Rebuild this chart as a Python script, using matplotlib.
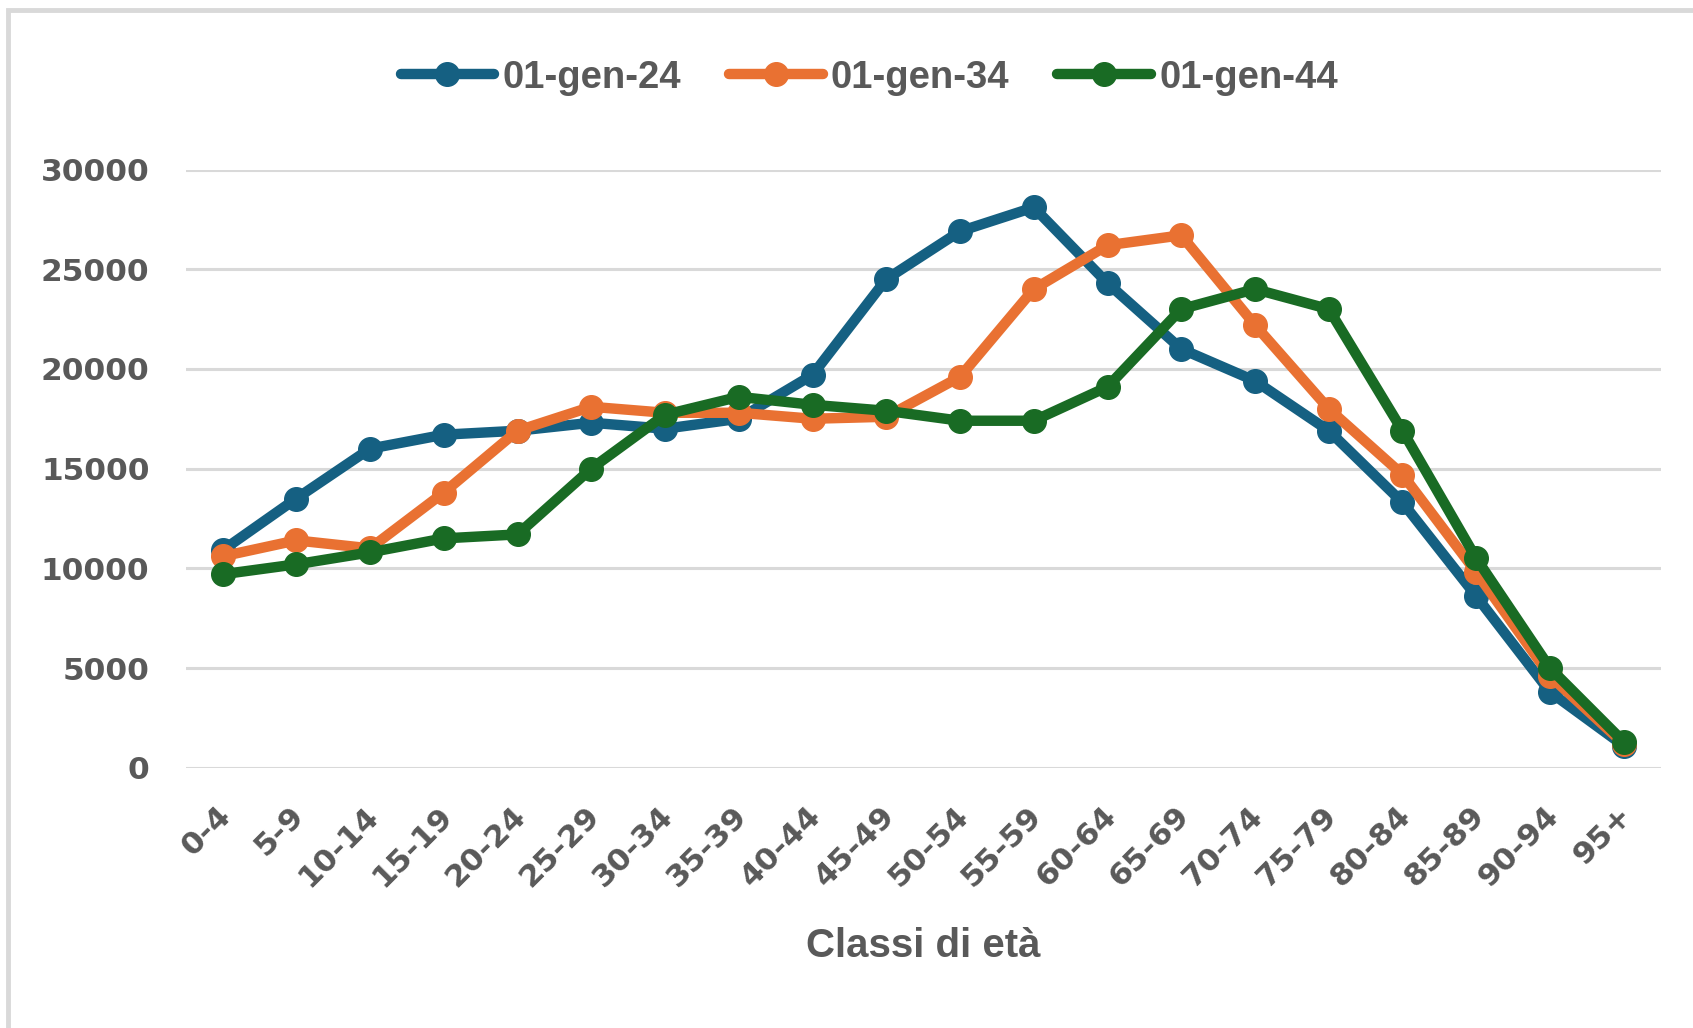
import matplotlib
matplotlib.use("Agg")
import matplotlib.pyplot as plt
from matplotlib.patches import Rectangle
from matplotlib.transforms import ScaledTranslation

categories = ["0-4", "5-9", "10-14", "15-19", "20-24", "25-29", "30-34", "35-39",
              "40-44", "45-49", "50-54", "55-59", "60-64", "65-69", "70-74", "75-79",
              "80-84", "85-89", "90-94", "95+"]
s2024 = [10900, 13500, 16000, 16700, 16900, 17300, 17000, 17500, 19700, 24500,
         26900, 28100, 24300, 21000, 19400, 16900, 13300, 8600, 3800, 1100]
s2034 = [10600, 11400, 11000, 13800, 16900, 18100, 17800, 17800, 17500, 17600,
         19600, 24000, 26200, 26700, 22200, 18000, 14700, 9800, 4600, 1200]
s2044 = [9700, 10200, 10800, 11500, 11700, 15000, 17700, 18600, 18200, 17900,
         17400, 17400, 19100, 23000, 24000, 23000, 16900, 10500, 5000, 1300]
series_labels = ["01-gen-24", "01-gen-34", "01-gen-44"]
colors = ["#156082", "#E97132", "#196B24"]
yticks = [0, 5000, 10000, 15000, 20000, 25000, 30000]

W, H = 1693, 1028
fig = plt.figure(figsize=(W / 100, H / 100), dpi=100)
fig.patch.set_facecolor("white")
fig.patches.append(Rectangle((8 / W, -0.1), 1.2, 1.1 - 10 / H,
                             transform=fig.transFigure, fill=False,
                             edgecolor="#d9d9d9", linewidth=3.5, zorder=0))

ax = fig.add_axes([185.7 / W, 1 - 767.7 / H, (1660.6 - 185.7) / W, (767.7 - 169.5) / H])
x = list(range(len(categories)))
for ys, lab, c in zip([s2024, s2034, s2044], series_labels, colors):
    ax.plot(x, ys, color=c, lw=7.5, marker="o", markersize=17,
            solid_capstyle="round", solid_joinstyle="round", label=lab, clip_on=False)

ax.set_xlim(-0.5, len(categories) - 0.5)
ax.set_ylim(0, 30000)
ax.set_yticks(yticks)
ax.set_yticklabels([str(v) for v in yticks])
ax.yaxis.grid(True, color="#d9d9d9", lw=2.2)
ax.set_axisbelow(True)
for sp in ax.spines.values():
    sp.set_visible(False)
ax.tick_params(axis="both", length=0, colors="#595959")
ax.tick_params(axis="y", pad=26)
ax.tick_params(axis="x", pad=24)
ax.set_xticks(x)
ax.set_xticklabels(categories, rotation=45, ha="right", rotation_mode="default")
offset = ScaledTranslation(14 / 100, 0, fig.dpi_scale_trans)
for t in ax.get_xticklabels():
    t.set_transform(t.get_transform() + offset)
for t in ax.get_yticklabels() + ax.get_xticklabels():
    t.set_fontfamily("DejaVu Sans")
    t.set_fontweight("bold")
    t.set_fontsize(22.5)
    t.set_color("#595959")

ax.set_xlabel("Classi di età", fontsize=29, fontweight="bold", color="#595959",
              family=["Liberation Sans Narrow", "Liberation Sans", "DejaVu Sans"], labelpad=25)

leg = fig.legend(loc="center", bbox_to_anchor=(0.5135, 0.9245), ncol=3, frameon=False,
                 handlelength=2.45, handletextpad=0.22, columnspacing=1.25,
                 prop={"family": ["Liberation Sans Narrow", "Liberation Sans", "DejaVu Sans"],
                       "weight": "bold", "size": 27.5})
for t in leg.get_texts():
    t.set_color("#595959")

fig.savefig("out.png", dpi=100, facecolor="white")
